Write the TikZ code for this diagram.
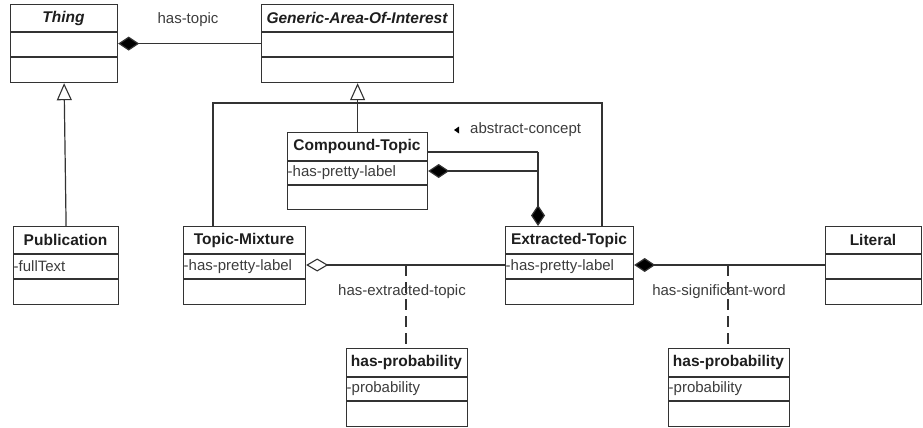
\documentclass[tikz,border=0pt]{standalone}
\usepackage{fontspec}
\setmainfont{Liberation Sans}
\usetikzlibrary{arrows.meta}
\definecolor{lc}{HTML}{333333}
\definecolor{tc}{HTML}{1E1E1E}
\definecolor{ac}{HTML}{3C3C3C}
\tikzset{
  box/.style={draw=lc, line width=1.2pt, inner sep=0pt, anchor=north west},
  divline/.style={draw=lc, line width=1.2pt},
  title/.style={font=\fontsize{15.5}{18}\selectfont\bfseries, text=tc, inner sep=0pt},
  attr/.style={font=\fontsize{15}{18}\selectfont, text=ac, inner sep=0pt, anchor=west},
  lbl/.style={font=\fontsize{15}{18}\selectfont, text=ac, inner sep=0pt},
  conn/.style={draw=lc, line width=1.2pt},
  umlcomp/.tip={Diamond[length=21pt, width=14pt, fill=black]},
  umlaggr/.tip={Diamond[length=22pt, width=13pt, open, fill=white, line width=1.1pt]},
  umlgen/.tip={Triangle[length=17pt, width=15pt, open, fill=white, line width=1.1pt]},
  assocdash/.style={draw=lc, line width=1.2pt, dash pattern=on 11pt off 6pt},
}
% #1 name, #2 left, #3 top, #4 right, #5 bottom, #6 header bottom, #7 divider, #8 title, #9 attribute
\newcommand\umlbox[9]{%
  \node[box, minimum width={(#4-#2)*1pt}, minimum height={(#5-#3)*1pt}] (#1) at (#2,#3) {};
  \draw[divline] (#2,#6) -- (#4,#6);
  \draw[divline] (#2,#7) -- (#4,#7);
  \node[title] (#1-t) at ({(#2+#4)/2},{(#3+#6)/2}) {#8};
  \node[attr] (#1-a) at ({#2+0.5},{(#6+#7)/2}) {#9};
}
\begin{document}
\begin{tikzpicture}[x=1pt, y=-1pt]
\useasboundingbox (0,0) rectangle (923,428);

\umlbox{thing}{10}{4}{117}{82}{32}{57}{\itshape Thing}{}
\umlbox{gaoi}{261}{4}{453}{82}{32}{57}{\itshape Generic-Area-Of-Interest}{}
\umlbox{ct}{287}{132}{427}{209}{161}{185}{Compound-Topic}{-has-pretty-label}
\umlbox{pub}{13}{226}{118}{304}{254}{279}{Publication}{-fullText}
\umlbox{tm}{183}{226}{305}{304}{254}{279}{Topic-Mixture}{-has-pretty-label}
\umlbox{et}{505}{226}{633}{304}{254}{279}{Extracted-Topic}{-has-pretty-label}
\umlbox{lit}{825}{226}{921}{304}{254}{279}{Literal}{}
\umlbox{hpa}{346}{348}{467}{426}{377}{401}{has-probability}{-probability}
\umlbox{hpb}{668}{348}{789}{426}{377}{401}{has-probability}{-probability}

% has-topic
\draw[conn, {umlcomp}-] (thing.east) -- (gaoi.west);
\node[lbl] (lhastopic) at (188,20) {has-topic};

% generalization Thing <- Publication
\draw[conn, -{umlgen}] (pub.north) -- (thing.south);

% generalization tree to Generic-Area-Of-Interest
\coordinate (bus) at (357,103);
\coordinate (tmup) at (213,226);
\coordinate (etup) at (602,226);
\draw[conn, -{umlgen}] (ct.north) -- (gaoi.south);
\draw[conn] (tmup) |- (bus) -| (etup);

% abstract-concept (Compound-Topic -- Extracted-Topic)
\coordinate (acupper) at (538,152);
\coordinate (aclower) at (538,171);
\coordinate (acdown) at (538,226);
\draw[conn] (ct.east |- acupper) -- (acupper);
\draw[conn, -{umlcomp}] (acupper) -- (acdown);
\draw[conn, {umlcomp}-] (ct.east |- aclower) -- (aclower);
\fill[black] (454,130) -- (459,126.5) -- (459,133.5) -- cycle;
\node[lbl, anchor=west] (lac) at (470,130) {abstract-concept};

% has-extracted-topic
\coordinate (hetj) at (406,265);
\draw[conn, {umlaggr}-] (tm.east |- hetj) -- (et.west |- hetj);
\draw[assocdash] (hetj) -- (hpa.north -| hetj);
\node[lbl] (lhet) at (402,292) {has-extracted-topic};

% has-significant-word
\coordinate (hswj) at (728,265);
\draw[conn, {umlcomp}-] (et.east |- hswj) -- (lit.west |- hswj);
\draw[assocdash] (hswj) -- (hpb.north -| hswj);
\node[lbl] (lhsw) at (719,292) {has-significant-word};
\end{tikzpicture}
\end{document}
